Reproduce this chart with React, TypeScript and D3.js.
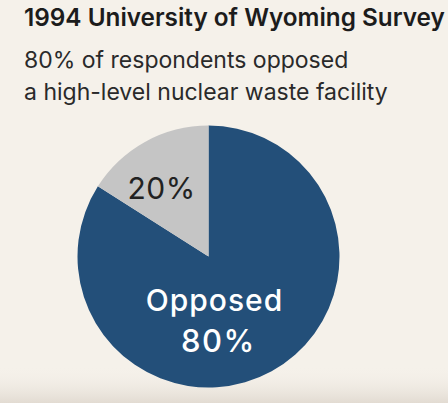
import * as d3 from "d3";

const width = 448;
const height = 403;

// slice shares as drawn (the small wedge is a little under a fifth of the circle)
const categories = ["Opposed", "Other"];
const shares = [84, 16];
const labels = ["80%", "20%"];
const colors = ["#234f79", "#c5c5c5"];

const title = "1994 University of Wyoming Survey";
const subtitle = ["80% of respondents opposed", "a high-level nuclear waste facility"];

const font = "Inter, 'Noto Sans', sans-serif";

type Slice = { category: string; value: number; label: string; color: string };

const App: React.FC = () => {
  const cx = 208.5;
  const cy = 256.5;
  const radius = 131;

  const data: Slice[] = categories.map((c, i) => ({
    category: c,
    value: shares[i],
    label: labels[i],
    color: colors[i],
  }));
  const pie = d3
    .pie<Slice>()
    .value((d) => d.value)
    .sort(null);
  const arcs = pie(data);
  const arc = d3.arc<d3.PieArcDatum<Slice>>().innerRadius(0).outerRadius(radius);

  const opposed = arcs[0];
  const other = arcs[1];

  return (
    <svg
      width={width}
      height={height}
      style={{ position: "fixed", left: 0, top: 0, display: "block" }}
    >
      <defs>
        <linearGradient id="floor" x1="0" y1="0" x2="0" y2="1">
          <stop offset="0" stopColor="#f5f1ea" stopOpacity={0} />
          <stop offset="1" stopColor="#e2dbd2" />
        </linearGradient>
      </defs>
      <rect width={width} height={height} fill="#f5f1ea" />
      <rect y={366} width={width} height={height - 366} fill="url(#floor)" />

      <text x={24} y={26} fontFamily={font} fontWeight={600} fontSize={24.3} fill="#1c1c1c">
        {title}
      </text>
      {subtitle.map((s, i) => (
        <text key={s} x={24} y={68 + i * 32} fontFamily={font} fontSize={23} fill="#2a2a2a">
          {s}
        </text>
      ))}

      <g transform={`translate(${cx},${cy})`}>
        {arcs.map((a) => (
          <path key={a.data.category} d={arc(a) ?? ""} fill={a.data.color} />
        ))}
        <text
          x={-47}
          y={-58}
          textAnchor="middle"
          fontFamily={font}
          fontSize={30}
          letterSpacing={0.5}
          fill="#222"
        >
          {other.data.label}
        </text>
        <text
          x={6}
          y={54}
          textAnchor="middle"
          fontFamily={font}
          fontWeight={500}
          fontSize={30}
          letterSpacing={1}
          fill="#fff"
        >
          {opposed.data.category}
        </text>
        <text
          x={10}
          y={95}
          textAnchor="middle"
          fontFamily={font}
          fontWeight={500}
          fontSize={31}
          letterSpacing={1.5}
          fill="#fff"
        >
          {opposed.data.label}
        </text>
      </g>
    </svg>
  );
};

export default App;
